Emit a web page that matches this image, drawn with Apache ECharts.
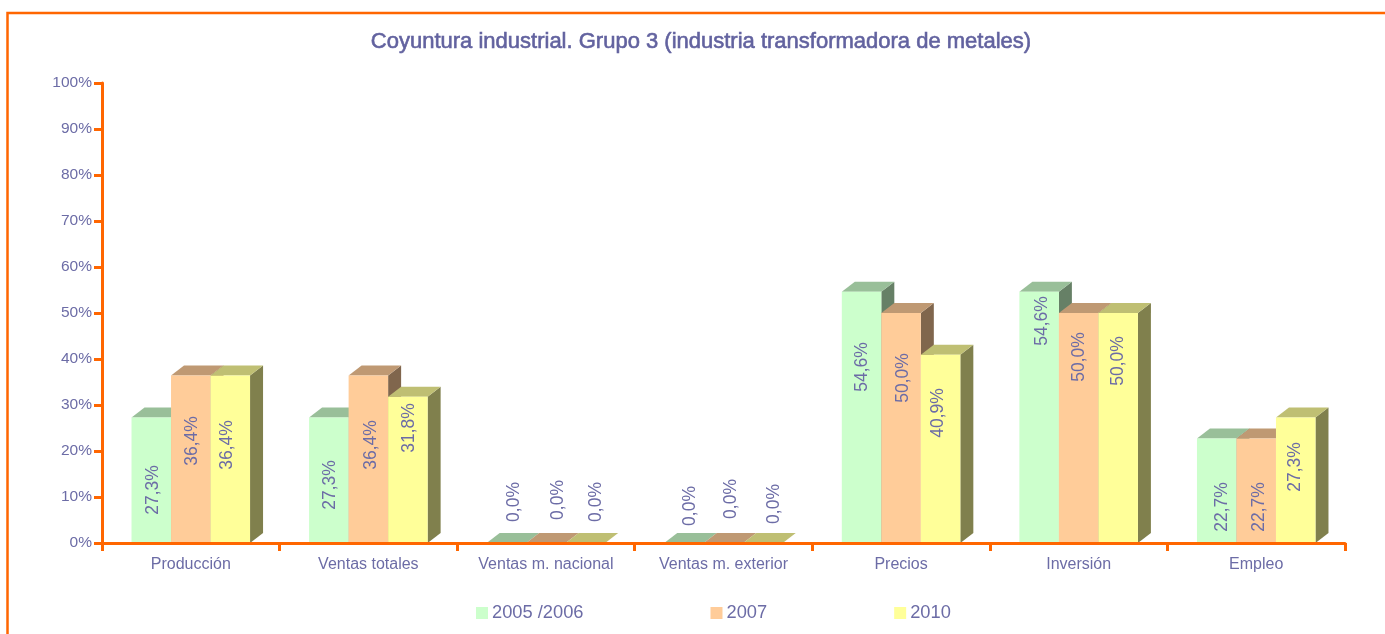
<!DOCTYPE html>
<html><head><meta charset="utf-8">
<style>html,body{margin:0;padding:0;background:#fff}#c{width:1385px;height:634px}</style>
<script src="https://cdn.jsdelivr.net/npm/echarts@6/dist/echarts.min.js"></script>
</head><body><div id="c"></div>
<script>
const categories = ['Producción','Ventas totales','Ventas m. nacional','Ventas m. exterior','Precios','Inversión','Empleo'];
const seriesNames = ['2005 /2006','2007','2010'];
const values2005 = [27.3,27.3,0,0,54.6,54.6,22.7];
const values2007 = [36.4,36.4,0,0,50,50,22.7];
const values2010 = [36.4,31.8,0,0,40.9,50,27.3];
const yTicks = [0,10,20,30,40,50,60,70,80,90,100];
const allValues = [values2005,values2007,values2010];

const faces = [
  {front:'#CCFFCC',top:'#99BF99',side:'#668066'},
  {front:'#FFCC99',top:'#BF9973',side:'#80664D'},
  {front:'#FFFF99',top:'#BFBF73',side:'#80804D'}
];
const ink = '#6C6CA6', orange = '#FF6600', font = 'Liberation Sans, Arial, sans-serif';
// label centre per series and category: [x from bar centre, y in pixels above the axis]
const spots = [
  [[1,53],[0,58],[6.5,41],[5,37],[0,176],[2,222],[4,36]],
  [[0,102],[1.5,98],[11,43],[6.5,44],[1,165],[0,186],[2,36]],
  [[-4,98],[0,115],[9.5,41],[10,39],[-3.5,130],[-1,182],[-2,76]]
];
const depthX = 13, depthY = 10, widthShare = 0.2225;

function makeSeries(idx){
  return {
    type:'custom', name:seriesNames[idx], coordinateSystem:'cartesian2d',
    itemStyle:{color:faces[idx].front}, z:2+idx,
    data: allValues[idx].map((v,i)=>[i,v]),
    encode:{x:0,y:1},
    renderItem(params,api){
      const cat = api.value(0), val = api.value(1);
      const base = api.coord([cat,0]), head = api.coord([cat,val]);
      const band = api.size([1,0])[0], w = band*widthShare;
      const x0 = base[0] + (idx-1.5)*w, x1 = x0+w, yb = base[1], yt = head[1];
      const f = faces[idx], spot = spots[idx][cat];
      const text = val.toFixed(1).replace('.',',')+'%';
      return {type:'group',children:[
        {type:'polygon',shape:{points:[[x1,yb],[x1+depthX,yb-depthY],[x1+depthX,yt-depthY],[x1,yt]]},style:{fill:f.side}},
        {type:'polygon',shape:{points:[[x0,yt],[x0+depthX,yt-depthY],[x1+depthX,yt-depthY],[x1,yt]]},style:{fill:f.top}},
        {type:'rect',shape:{x:x0,y:yt,width:w,height:yb-yt},style:{fill:f.front}},
        {type:'text',z2:50,x:x0+w/2+spot[0]+1,y:yb-spot[1],rotation:Math.PI/2,
         style:{text,fill:ink,font:'17.5px '+font,align:'center',verticalAlign:'middle'}}
      ]};
    }
  };
}

const chart = echarts.init(document.getElementById('c'),null,{renderer:'canvas'});
chart.setOption({
  animation:false, backgroundColor:'#fff',
  title:{text:'Coyuntura industrial. Grupo 3 (industria transformadora de metales)',left:696,top:26,textAlign:'center',
    textStyle:{color:'#62629F',fontFamily:font,fontSize:22,fontWeight:'normal',textBorderColor:'#62629F',textBorderWidth:0.6}},
  legend:{left:476,top:604,padding:0,itemGap:127,itemWidth:12,itemHeight:12,icon:'rect',itemStyle:{borderWidth:0},
    textStyle:{color:ink,fontFamily:font,fontSize:18.3,padding:[0,0,2,-1]},data:seriesNames},
  grid:{left:102,right:40,top:83,bottom:91,containLabel:false},
  xAxis:{type:'category',data:categories,z:10,
    axisLine:{lineStyle:{color:orange,width:3}},axisTick:{show:true,length:8,lineStyle:{color:orange,width:3}},
    axisLabel:{color:ink,fontFamily:font,fontSize:16,margin:14},splitLine:{show:false}},
  yAxis:{type:'value',min:yTicks[0],max:yTicks[yTicks.length-1],interval:yTicks[1]-yTicks[0],z:10,
    axisLine:{show:true,lineStyle:{color:orange,width:3}},axisTick:{show:true,length:8,lineStyle:{color:orange,width:3}},
    axisLabel:{color:ink,fontFamily:font,fontSize:15.5,margin:10,padding:[4,0,0,0],formatter:'{value}%'},splitLine:{show:false}},
  graphic:[{type:'polyline',silent:true,z:0,shape:{points:[[7.5,634],[7.5,13],[1385,13]]},style:{stroke:orange,lineWidth:2.5,fill:null}}],
  series:[0,1,2].map(makeSeries)
});
</script></body></html>
